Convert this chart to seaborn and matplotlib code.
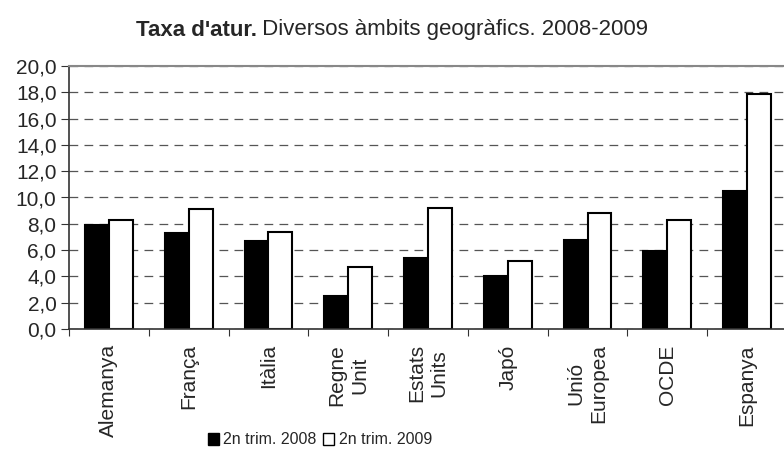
import matplotlib
matplotlib.use('Agg')
import matplotlib.pyplot as plt
import seaborn as sns
import pandas as pd
from matplotlib.ticker import FuncFormatter, MultipleLocator
from matplotlib.patches import Patch

ambits = ['Alemanya', 'França', 'Itàlia', 'Regne\nUnit', 'Estats\nUnits',
          'Japó', 'Unió\nEuropea', 'OCDE', 'Espanya']
trim_2008 = [7.9, 7.3, 6.7, 2.5, 5.4, 4.0, 6.8, 5.9, 10.5]
trim_2009 = [8.3, 9.1, 7.4, 4.7, 9.2, 5.2, 8.8, 8.3, 17.9]
series = ['2n trim. 2008', '2n trim. 2009']

df = pd.DataFrame({
    'ambit': ambits * 2,
    'taxa': trim_2008 + trim_2009,
    'serie': [series[0]] * len(ambits) + [series[1]] * len(ambits),
})

sns.set_style('white')
plt.rcParams['font.family'] = ['Liberation Sans', 'DejaVu Sans']

W, H = 784, 459
fig = plt.figure(figsize=(W / 100, H / 100), dpi=100)
ax = fig.add_axes([69 / W, 1 - 329 / H, 718 / W, 263 / H])

sns.barplot(data=df, x='ambit', y='taxa', hue='serie', palette=['black', 'white'],
            edgecolor='black', linewidth=1.5, width=0.6, gap=0, ax=ax, legend=False)

ax.set_ylim(0, 20)
ax.set_xlim(-0.5, len(ambits) - 0.5)
ax.yaxis.set_major_locator(MultipleLocator(2))
ax.yaxis.set_major_formatter(FuncFormatter(lambda v, p: f'{v:.1f}'.replace('.', ',')))
ax.grid(axis='y', color='#555555', linestyle=(0, (7, 5)), linewidth=0.9)
ax.set_axisbelow(True)
ax.set_xlabel('')
ax.set_ylabel('')

# ticks a les fronteres entre categories, etiquetes a part
ax.set_xticks([i - 0.5 for i in range(len(ambits))])
ax.set_xticklabels([])
for i, nom in enumerate(ambits):
    ax.annotate(nom, xy=(i, 0), xycoords=('data', 'axes fraction'), xytext=(0, -11),
                textcoords='offset points', rotation=90, ha='center', va='top',
                fontsize=15, multialignment='center', linespacing=1.25)
ax.tick_params(axis='x', direction='out', length=5, color='#333333', bottom=True)
ax.tick_params(axis='y', direction='out', length=6, color='#333333', left=True, labelsize=15, pad=3)

for s in ['left', 'bottom']:
    ax.spines[s].set_color('#333333')
    ax.spines[s].set_linewidth(1.2)
ax.spines['top'].set_color('#888888')
ax.spines['top'].set_linewidth(1.5)
ax.spines['right'].set_visible(False)

# títol centrat: part en negreta + part normal
t1 = fig.text(0, 1 - 30 / H, "Taxa d'atur.", fontsize=16, fontweight='bold', va='center')
t2 = fig.text(0, 1 - 30 / H, " Diversos àmbits geogràfics. 2008-2009", fontsize=16, va='center')
r = fig.canvas.get_renderer()
w1 = t1.get_window_extent(r).width
w2 = t2.get_window_extent(r).width
x0 = 392 - (w1 + w2) / 2
t1.set_x(x0 / W)
t2.set_x((x0 + w1) / W)

handles = [Patch(facecolor='black', edgecolor='black'),
           Patch(facecolor='white', edgecolor='black')]
fig.legend(handles, series, loc='center', bbox_to_anchor=(320 / W, 1 - 440 / H), ncol=2,
           frameon=False, fontsize=11.5, handlelength=0.7, handleheight=0.7,
           handletextpad=0.3, columnspacing=0.4, borderpad=0)

fig.savefig('out.png', dpi=100)
